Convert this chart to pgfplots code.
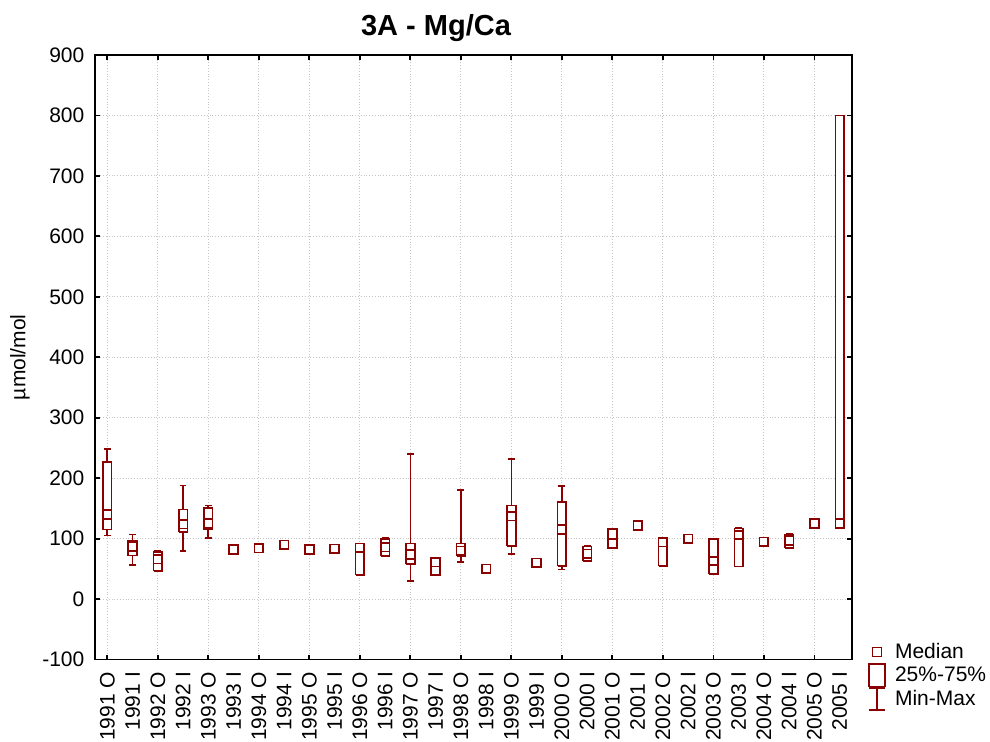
\documentclass[border=0pt]{standalone}
\usepackage{fontspec}
\setmainfont{Liberation Sans}
\usepackage{pgfplots}
\usepackage{pgfplotstable}
\pgfplotsset{compat=1.18}
\definecolor{mred}{RGB}{139,0,0}
\newcommand{\lbl}{\fontsize{10.5}{12}\selectfont}
% x, min, Q1, median, Q3, max
\pgfplotstableread{
x  mn  q1  md  q3  mx
0  105 115 140 227 248
1  56  72  87  96  107
2  46  47  66  78  80
3  80  111 124 148 188
4  101 115 125 151 155
10 40  40  85  92  92
11 71  71  86  100 101
12 30  58  74  92  240
13 40  40  47  68  68
14 61  71  80  92  181
16 75  88  137 155 232
18 49  55  115 161 187
19 62  63  75  87  88
20 84  84  92  116 116
22 55  55  94  102 102
24 42  42  63  100 100
25 54  54  106 117 118
27 85  85  97  107 108
29 117 117 125 800 800
}\boxdata
% box: left x, right x, Q1, Q3
\newcommand{\bx}[4]{\addplot[draw=mred, line width=0.85pt, fill=white, mark=none, line join=miter, forget plot]
  coordinates {(#1,#3) (#2,#3) (#2,#4) (#1,#4) (#1,#3)};}
\begin{document}
\begin{tikzpicture}
\path[use as bounding box] (0,0) rectangle (495pt,371pt);
\begin{axis}[
  at={(47.35pt,41.2pt)}, anchor=south west,
  scale only axis, width=378.8pt, height=302.3pt,
  xmin=-0.5, xmax=29.5, ymin=-100, ymax=900,
  ytick={-100,0,...,900},
  xtick={0,2,...,28},
  xticklabels={1991 O,1992 O,1993 O,1994 O,1995 O,1996 O,1997 O,1998 O,1999 O,2000 O,2001 O,2002 O,2003 O,2004 O,2005 O},
  extra x ticks={1,3,...,29},
  extra x tick labels={1991 I,1992 I,1993 I,1994 I,1995 I,1996 I,1997 I,1998 I,1999 I,2000 I,2001 I,2002 I,2003 I,2004 I,2005 I},
  extra x tick style={major tick length=0pt, grid=none},
  tick align=inside, major tick length=2.5pt,
  grid=major, major grid style={densely dotted, gray!45, line width=0.5pt},
  axis line style={line width=0.9pt},
  every tick/.style={black, line width=0.9pt},
  ticklabel style={font=\lbl},
  /pgf/number format/assume math mode=true,
  xticklabel style={rotate=90, anchor=east, inner sep=0pt},
  xticklabel shift=6pt,
  yticklabel style={anchor=east, inner sep=0pt},
  yticklabel shift=5pt,
  ylabel={µmol/mol},
  every axis y label/.style={at={(axis description cs:-0.0986,0.5)}, rotate=90, anchor=center, font=\lbl},
  title={3A - Mg/Ca},
  every axis title/.style={at={(axis description cs:0.4505,1)}, anchor=base, yshift=9.5pt, font=\fontsize{14.5}{16}\selectfont\bfseries},
  legend style={draw=none, fill=none, at={(axis description cs:1.0208,0.0316)}, anchor=north west,
    inner sep=0pt, outer sep=0pt, row sep=0pt, column sep=4pt, font=\lbl,
    nodes={inner sep=0.5pt}, cells={anchor=west}},
]
\addlegendimage{legend image code/.code={\path[draw=none,fill=none] (0pt,-5.75pt) rectangle (9pt,5.75pt);
  \draw[mred, line width=0.8pt] (2.3pt,-2.2pt) rectangle (6.7pt,2.2pt);}}
\addlegendentry{Median}
\addlegendimage{legend image code/.code={\path[draw=none,fill=none] (0pt,-5.75pt) rectangle (9pt,5.75pt);
  \draw[mred, line width=0.8pt] (0.4pt,-5.6pt) rectangle (8.4pt,5.6pt);}}
\addlegendentry{25\%-75\%}
\addlegendimage{legend image code/.code={\path[draw=none,fill=none] (0pt,-5.75pt) rectangle (9pt,5.75pt);
  \draw[mred, line width=0.8pt] (4.5pt,-5.4pt)--(4.5pt,5.4pt) (0.4pt,-5.4pt)--(8.6pt,-5.4pt) (0.4pt,5.4pt)--(8.6pt,5.4pt);}}
\addlegendentry{Min-Max}

% upper whiskers Q3 -> max
\addplot[draw=none, mark=none, forget plot,
  error bars/.cd, y dir=plus, y explicit,
  error bar style={draw=mred, line width=0.85pt},
  error mark options={draw=mred, line width=0.85pt, mark size=1.7pt, rotate=90}]
  table[x=x, y=q3, y error plus expr=\thisrow{mx}-\thisrow{q3}] {\boxdata};
% lower whiskers min -> Q1
\addplot[draw=none, mark=none, forget plot,
  error bars/.cd, y dir=minus, y explicit,
  error bar style={draw=mred, line width=0.85pt},
  error mark options={draw=mred, line width=0.85pt, mark size=1.7pt, rotate=90}]
  table[x=x, y=q1, y error minus expr=\thisrow{q1}-\thisrow{mn}] {\boxdata};

% boxes Q1-Q3
\bx{-0.17}{0.17}{115}{227}
\bx{0.83}{1.17}{72}{96}
\bx{1.83}{2.17}{47}{78}
\bx{2.83}{3.17}{111}{148}
\bx{3.83}{4.17}{115}{151}
\bx{9.83}{10.17}{40}{92}
\bx{10.83}{11.17}{71}{100}
\bx{11.83}{12.17}{58}{92}
\bx{12.83}{13.17}{40}{68}
\bx{13.83}{14.17}{71}{92}
\bx{15.83}{16.17}{88}{155}
\bx{17.83}{18.17}{55}{161}
\bx{18.83}{19.17}{63}{87}
\bx{19.83}{20.17}{84}{116}
\bx{21.83}{22.17}{55}{102}
\bx{23.83}{24.17}{42}{100}
\bx{24.83}{25.17}{54}{117}
\bx{26.83}{27.17}{85}{107}
\bx{28.83}{29.17}{117}{800}

% medians
\addplot[only marks, mark=square*, mark size=2.15pt, forget plot,
  mark options={draw=mred, fill=white, line width=0.85pt}] coordinates {
  (0,140) (1,87) (2,66) (3,124) (4,125) (5,82) (6,84) (7,90) (8,82) (9,83)
  (10,85) (11,86) (12,74) (13,47) (14,80) (15,50) (16,137) (17,60) (18,115) (19,75)
  (20,92) (21,122) (22,94) (23,100) (24,63) (25,106) (26,95) (27,97) (28,125) (29,125)
};
\end{axis}
\end{tikzpicture}
\end{document}
